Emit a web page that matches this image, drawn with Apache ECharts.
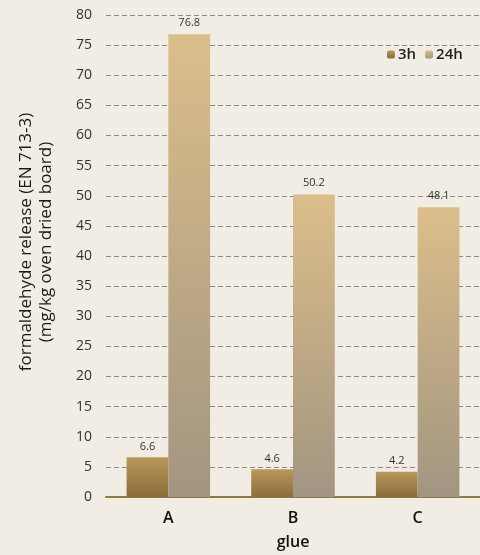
<!DOCTYPE html>
<html>
<head>
<meta charset="utf-8">
<style>
  html, body { margin: 0; padding: 0; background: #f1ede4; }
  #chart { width: 480px; height: 555px; }
</style>
<script src="https://cdn.jsdelivr.net/npm/echarts@6/dist/echarts.min.js"></script>
</head>
<body>
<div id="chart"></div>
<script>
// Formaldehyde release per glue type, after 3 h and 24 h
const categories = ['A', 'B', 'C'];
const seriesNames = ['3h', '24h'];
const values3h = [6.6, 4.6, 4.2];
const values24h = [76.8, 50.2, 48.1];
const yTicks = { min: 0, max: 80, interval: 5 };

const chart = echarts.init(document.getElementById('chart'), null, { renderer: 'canvas' });

function vGrad(top, bottom) {
  return {
    type: 'linear', x: 0, y: 0, x2: 0, y2: 1,
    colorStops: [{ offset: 0, color: top }, { offset: 1, color: bottom }]
  };
}

const font = '"Open Sans", "Noto Sans", sans-serif';

chart.setOption({
  backgroundColor: '#f1ede4',
  animation: false,
  textStyle: { fontFamily: font },
  legend: {
    data: seriesNames,
    left: 382,
    top: 42,
    itemWidth: 8,
    itemHeight: 8,
    itemGap: 9,
    textStyle: { fontSize: 15, fontWeight: 600, color: '#222', fontFamily: font, padding: [0, 0, 0, -2] }
  },
  grid: { left: 106, right: -4, top: 15, bottom: 57 },
  xAxis: {
    type: 'category',
    data: categories,
    name: 'glue',
    nameLocation: 'middle',
    nameGap: 37,
    nameTextStyle: { fontSize: 16, fontWeight: 600, color: '#111', fontFamily: font },
    axisLine: { lineStyle: { color: '#8c7d3e', width: 2 } },
    axisTick: { show: false },
    axisLabel: { fontSize: 16, fontWeight: 600, color: '#111', margin: 13, fontFamily: font }
  },
  yAxis: {
    type: 'value',
    min: yTicks.min,
    max: yTicks.max,
    interval: yTicks.interval,
    name: 'formaldehyde release (EN 713-3)\n(mg/kg oven dried board)',
    nameLocation: 'middle',
    nameGap: 50,
    nameTextStyle: {
      fontSize: 17, fontWeight: 500, color: '#1a1a1a', lineHeight: 20, fontFamily: font,
      padding: [0, 0, 0, 28]
    },
    axisLine: { show: false },
    axisTick: { show: false },
    axisLabel: { fontSize: 14, color: '#333', margin: 14, fontFamily: font },
    splitLine: { lineStyle: { color: '#8a8a8a', type: [5, 3], width: 1 } }
  },
  series: [
    {
      name: seriesNames[0],
      type: 'bar',
      data: values3h,
      barGap: '0%',
      barCategoryGap: '33%',
      itemStyle: { color: vGrad('#ba985c', '#8a6d3a') },
      label: { show: true, position: 'top', distance: 5, fontSize: 11, color: '#333', fontFamily: font }
    },
    {
      name: seriesNames[1],
      type: 'bar',
      data: values24h,
      barGap: '0%',
      barCategoryGap: '33%',
      itemStyle: { color: vGrad('#dbbe8a', '#a29581') },
      label: { show: true, position: 'top', distance: 6, fontSize: 11, color: '#333', fontFamily: font }
    }
  ]
});
</script>
</body>
</html>
